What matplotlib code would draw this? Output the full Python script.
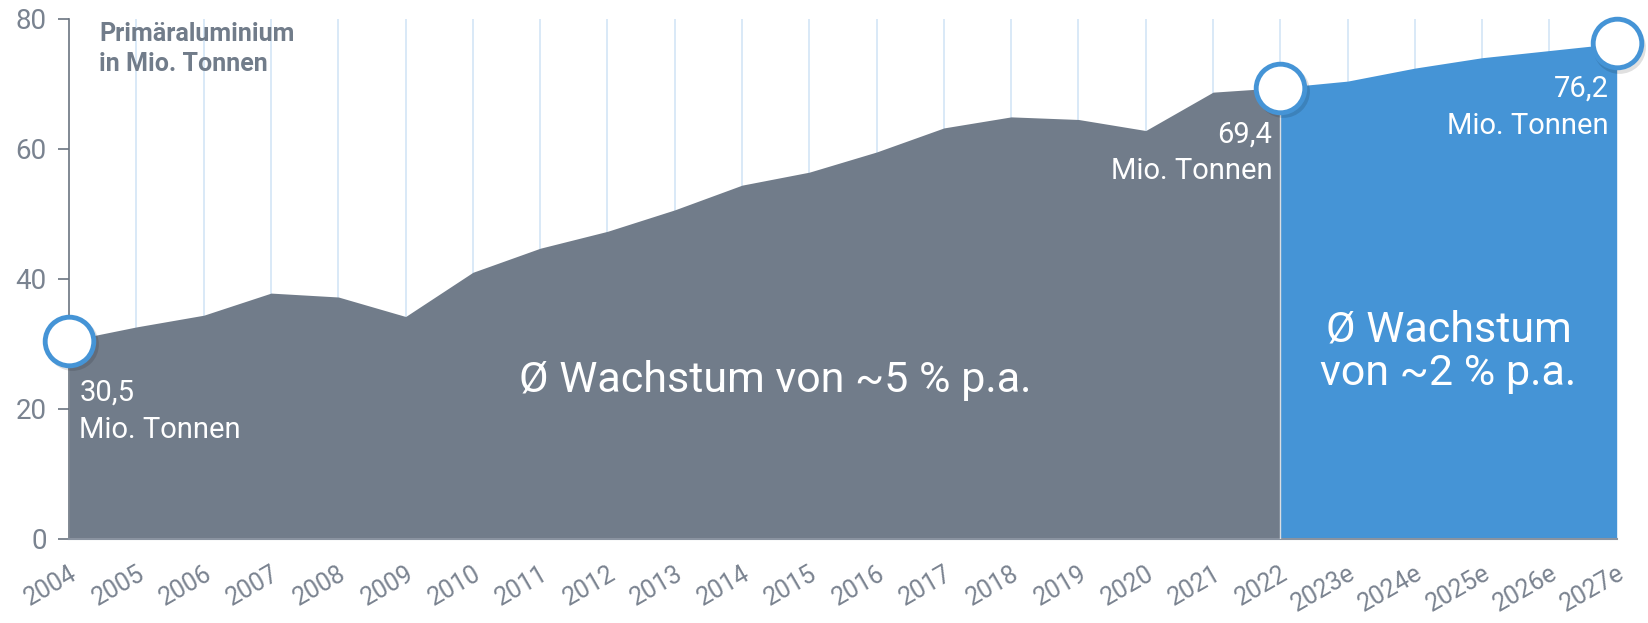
import matplotlib.pyplot as plt

# Primäraluminium production, Mio. Tonnen
years = ["2004", "2005", "2006", "2007", "2008", "2009", "2010", "2011", "2012",
         "2013", "2014", "2015", "2016", "2017", "2018", "2019", "2020", "2021",
         "2022", "2023e", "2024e", "2025e", "2026e", "2027e"]
values = [30.5, 32.6, 34.4, 37.8, 37.2, 34.2, 41.0, 44.7, 47.3, 50.6, 54.4, 56.4,
          59.5, 63.2, 64.9, 64.5, 62.8, 68.7, 69.4, 70.4, 72.4, 74.0, 75.1, 76.2]
split = 18  # index of 2022, start of forecast
marked = [0, 18, 23]

grey = "#717c8a"
blue = "#4594d6"
txt = "#6b7480"

plt.rcParams['font.family'] = ['Roboto', 'DejaVu Sans']

fig = plt.figure(figsize=(16.48, 6.23), dpi=100)
ax = fig.add_axes([0.042, 0.135, 0.939, 0.835])

x = list(range(len(years)))

# light vertical grid lines
for i in x[1:]:
    ax.plot([i, i], [0, 80], color="#d3e5f6", lw=1.2, zorder=1)

ax.fill_between(x[:split + 1], values[:split + 1], 0, color=grey, lw=0, zorder=2)
ax.fill_between(x[split:], values[split:], 0, color=blue, lw=0, zorder=2)
ax.plot([split, split], [0, values[split]], color="#d9dde2", lw=1, zorder=3)

# markers with soft shadow
for i in marked:
    ax.plot(i + 0.04, values[i] - 0.5, "o", ms=38, color="#000000", alpha=0.12,
            mec="none", clip_on=False, zorder=4)
    ax.plot(i, values[i], "o", ms=35, mfc="white", mec=blue, mew=3.5,
            clip_on=False, zorder=5)

lab = dict(color="white", fontsize=21, va="center", linespacing=1.4, zorder=6)
ax.text(0.15, 19.6, "30,5\nMio. Tonnen", ha="left", **lab)
ax.text(split - 0.12, 59.4, "69,4\nMio. Tonnen", ha="right", **lab)
ax.text(len(years) - 1.12, 66.4, "76,2\nMio. Tonnen", ha="right", **lab)

ax.text(10.5, 24.3, "Ø Wachstum von ~5 % p.a.", color="white", fontsize=31,
        ha="center", va="center", zorder=6)
ax.text(20.5, 28.8, "Ø Wachstum\nvon ~2 % p.a.", color="white", fontsize=31,
        ha="center", va="center", linespacing=1.1, zorder=6)

ax.text(0.45, 75.3, "Primäraluminium\nin Mio. Tonnen", color=grey, fontsize=18,
        fontweight="bold", ha="left", va="center", linespacing=1.3, zorder=6)

ax.set_xlim(0, len(years) - 1)
ax.set_ylim(0, 80)
ax.set_yticks([0, 20, 40, 60, 80])
ax.set_xticks(x)
ax.set_xticklabels(years, rotation=30, ha="right", rotation_mode="anchor")
ax.tick_params(axis="y", colors="#7a8390", labelsize=20, length=8, width=1.2, pad=8)
ax.tick_params(axis="x", colors="#7a8390", labelsize=18, length=0, pad=16)
ax.tick_params(axis="y", color=txt)

for s in ["top", "right"]:
    ax.spines[s].set_visible(False)
ax.spines["left"].set_color(txt)
ax.spines["bottom"].set_color("#8a93a0")
ax.spines["left"].set_linewidth(1.2)
ax.spines["bottom"].set_linewidth(1.5)

fig.savefig("out.png", dpi=100)
